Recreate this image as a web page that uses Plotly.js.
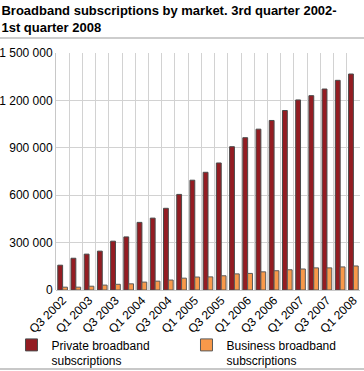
<!DOCTYPE html>
<html>
<head>
<meta charset="utf-8">
<script src="https://cdn.plot.ly/plotly-3.0.1.min.js"></script>
<style>html,body{margin:0;padding:0;background:#fff;}#chart{width:364px;height:371px;}</style>
</head>
<body>
<div id="chart"></div>
<script>
var quarters = ["Q3 2002","Q4 2002","Q1 2003","Q2 2003","Q3 2003","Q4 2003","Q1 2004","Q2 2004","Q3 2004","Q4 2004","Q1 2005","Q2 2005","Q3 2005","Q4 2005","Q1 2006","Q2 2006","Q3 2006","Q4 2006","Q1 2007","Q2 2007","Q3 2007","Q4 2007","Q1 2008"];
var privateSubs = [157000,201000,227000,246000,309000,336000,428000,455000,517000,605000,695000,745000,804000,907000,964000,1018000,1073000,1136000,1203000,1230000,1272000,1327000,1367000];
var businessSubs = [18000,18000,24000,31000,36000,39000,50000,56000,63000,75000,82000,83000,90000,102000,105000,115000,122000,128000,133000,140000,140000,146000,152000];
var tickLabels = quarters.map(function(q, i){ return i % 2 === 0 ? q : ""; });

var font = "Liberation Sans, Arial, sans-serif";
var traces = [
  {type:"bar", name:"Private broadband<br>subscriptions", x:quarters, y:privateSubs,
   marker:{color:"#941c22", line:{color:"#4a4a4a", width:1}}, hoverinfo:"x+y"},
  {type:"bar", name:"Business broadband<br>subscriptions", x:quarters, y:businessSubs,
   marker:{color:"#f8994a", line:{color:"#5a5a5a", width:1}}, hoverinfo:"x+y"}
];
var H = 237.6;
var layout = {
  width:364, height:371,
  margin:{l:56, r:4, t:53, b:81, pad:0, autoexpand:false},
  paper_bgcolor:"#fff", plot_bgcolor:"#fff",
  separators:", ",
  font:{family:font, size:12, color:"#000"},
  title:{text:"Broadband subscriptions by market. 3rd quarter 2002-<br>1st quarter 2008",
    font:{family:font, size:13, weight:"bold", color:"#000"},
    x:0.004, xanchor:"left", xref:"container", y:0.96, yanchor:"top", yref:"container"},
  barmode:"group", bargap:0.27, bargroupgap:0,
  xaxis:{type:"category", tickvals:quarters, ticktext:tickLabels, tickangle:-45,
    tickson:"boundaries", ticks:"", showgrid:true, gridcolor:"#d2d2d2", gridwidth:1,
    tickfont:{family:font, size:12, color:"#000"}, showline:false, fixedrange:true, automargin:false},
  yaxis:{range:[0,1500000], dtick:300000, tickformat:",d", showgrid:true, gridcolor:"#d2d2d2",
    gridwidth:1, zeroline:true, zerolinecolor:"#c8c8c8", showline:true, linecolor:"#c8c8c8",
    ticks:"", tickfont:{family:font, size:12, color:"#000"}, fixedrange:true, automargin:false},
  showlegend:true,
  legend:{orientation:"h", xref:"paper", yref:"paper", x:-0.1464, xanchor:"left", y:-0.1713, yanchor:"top",
    valign:"top", entrywidth:130, entrywidthmode:"pixels", traceorder:"normal",
    font:{family:font, size:12, color:"#000"}, bgcolor:"rgba(0,0,0,0)"},
  shapes:[
    {type:"line", xref:"paper", yref:"paper", x0:-56/304, x1:1+4/304,
     y0:(290.3-37.7)/H, y1:(290.3-37.7)/H, line:{color:"#bdbdbd", width:1.5}},
    {type:"line", xref:"paper", yref:"paper", x0:-56/304, x1:1+4/304,
     y0:(290.3-369.5)/H, y1:(290.3-369.5)/H, line:{color:"#c8c8c8", width:2}}
  ]
};
Plotly.newPlot("chart", traces, layout, {displayModeBar:false, staticPlot:false});
</script>
</body>
</html>
